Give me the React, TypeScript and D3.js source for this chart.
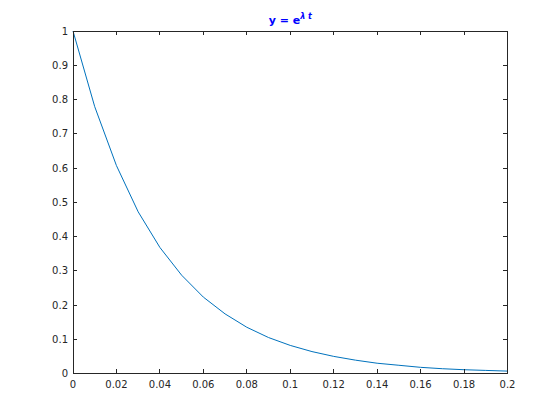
import React from "react";
import * as d3 from "d3";

const tValues = [0, 0.01, 0.02, 0.03, 0.04, 0.05, 0.06, 0.07, 0.08, 0.09, 0.1, 0.11, 0.12, 0.13, 0.14, 0.15, 0.16, 0.17, 0.18, 0.19, 0.2];
const yValues = [1, 0.779, 0.607, 0.472, 0.368, 0.287, 0.223, 0.174, 0.135, 0.105, 0.082, 0.064, 0.05, 0.039, 0.03, 0.024, 0.018, 0.014, 0.011, 0.009, 0.007];
const xTicks = [0, 0.02, 0.04, 0.06, 0.08, 0.1, 0.12, 0.14, 0.16, 0.18, 0.2];
const yTicks = [0, 0.1, 0.2, 0.3, 0.4, 0.5, 0.6, 0.7, 0.8, 0.9, 1];

export default function App() {
  const W = 560, H = 420;
  const left = 73, right = 507.5, top = 31, bottom = 373.5;
  const x = d3.scaleLinear().domain([0, 0.2]).range([left, right]);
  const y = d3.scaleLinear().domain([0, 1]).range([bottom, top]);
  const line = d3.line<number>().x((_, i) => x(tValues[i])).y((d) => y(d));
  const tl = 4.4;
  const axisColor = "#262626";
  const font = "'DejaVu Sans', Verdana, sans-serif";
  const fmt = (v: number) => String(+v.toFixed(2));
  return (
    <svg width={W} height={H} style={{ position: "absolute", left: 0, top: 0, background: "#fff" }}>
      <rect x={0} y={0} width={W} height={H} fill="#fff" />
      <path d={line(yValues) || ""} fill="none" stroke="#0072BD" strokeWidth={1} />
      <g stroke={axisColor} strokeWidth={1} shapeRendering="crispEdges">
        <rect x={left} y={top} width={right - left} height={bottom - top} fill="none" />
        {xTicks.map((t) => (
          <g key={"x" + t}>
            <line x1={x(t)} x2={x(t)} y1={bottom} y2={bottom - tl} />
            <line x1={x(t)} x2={x(t)} y1={top} y2={top + tl} />
          </g>
        ))}
        {yTicks.map((t) => (
          <g key={"y" + t}>
            <line x1={left} x2={left + tl} y1={y(t)} y2={y(t)} />
            <line x1={right} x2={right - tl} y1={y(t)} y2={y(t)} />
          </g>
        ))}
      </g>
      <g fill={axisColor} fontFamily={font} fontSize={10}>
        {xTicks.map((t) => (
          <text key={"xl" + t} x={x(t)} y={bottom + 14} textAnchor="middle">{fmt(t)}</text>
        ))}
        {yTicks.map((t) => (
          <text key={"yl" + t} x={left - 5} y={y(t) + 3.5} textAnchor="end">{fmt(t)}</text>
        ))}
      </g>
      <text x={(left + right) / 2} y={24} textAnchor="middle" fill="#0000FF" fontFamily={font} fontSize={11} fontWeight="bold" xmlSpace="preserve">
        {"y = e"}<tspan dy={-5} fontSize={8} fontStyle="italic">{"λ t"}</tspan>
      </text>
    </svg>
  );
}
